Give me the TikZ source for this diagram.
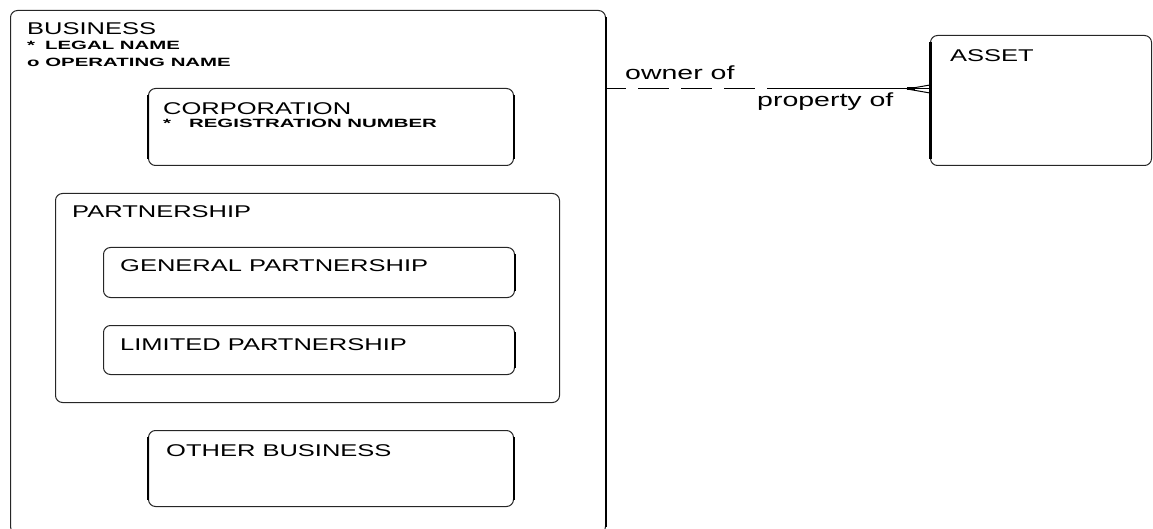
\documentclass[tikz,border=0pt]{standalone}
\usepackage{fontspec}
\setmainfont{Liberation Sans}
\newfontfamily\erfont[FakeStretch=1.5]{Liberation Sans}
\newfontfamily\attrfont[FakeStretch=1.7]{Liberation Sans}
\usetikzlibrary{positioning}

\tikzset{
  entity/.style={draw=black!85, line width=1pt, rounded corners=7pt, anchor=north west, inner sep=0pt},
  side/.style={line width=2.2pt, shorten >=7pt, shorten <=7pt},
  ename/.style={anchor=base west, inner sep=0pt, font=\erfont\fontsize{17}{17}\selectfont},
  eattr/.style={anchor=base west, inner sep=0pt, font=\attrfont\bfseries\fontsize{12}{12}\selectfont},
  rlabel/.style={anchor=base west, inner sep=0pt, font=\erfont\fontsize{19}{19}\selectfont},
}

\begin{document}
\begin{tikzpicture}[x=1pt, y=-1pt]
  \useasboundingbox (0,0) rectangle (1153,529);
  % entities
  \node[entity, minimum width=595pt, minimum height=523pt] (business) at (10,10) {};
  \node[entity, minimum width=365pt, minimum height=77pt] (corporation) at (148,88) {};
  \node[entity, minimum width=504pt, minimum height=209pt] (partnership) at (55,193) {};
  \node[entity, minimum width=411pt, minimum height=50pt] (general) at (103,247) {};
  \node[entity, minimum width=411pt, minimum height=49pt] (limited) at (103,325) {};
  \node[entity, minimum width=365pt, minimum height=76pt] (other) at (148,430) {};
  \node[entity, minimum width=221pt, minimum height=130pt] (asset) at (930,35) {};
  % heavy sides
  \draw[side] (business.north east) -- (business.south east);
  \draw[side] (corporation.north west) -- (corporation.south west);
  \draw[side] (corporation.north east) -- (corporation.south east);
  \draw[side] (general.north east) -- (general.south east);
  \draw[side] (limited.north east) -- (limited.south east);
  \draw[side] (other.north west) -- (other.south west);
  \draw[side] (other.north east) -- (other.south east);
  \draw[side, line width=3pt] (asset.north west) -- (asset.south west);
  % names and attributes
  \node[ename] (businessName) at (27,35) {BUSINESS};
  \node[eattr] (legalName) at (27,50) {*\hspace{10pt}LEGAL NAME};
  \node[eattr] (operatingName) at (27,67) {o OPERATING NAME};
  \node[ename] (corporationName) at (163,115) {CORPORATION};
  \node[eattr] (regNumber) at (163,128) {*\hspace{18pt}REGISTRATION NUMBER};
  \node[ename] (partnershipName) at (72,218) {PARTNERSHIP};
  \node[ename] (generalName) at (120,272) {GENERAL PARTNERSHIP};
  \node[ename] (limitedName) at (120,350) {LIMITED PARTNERSHIP};
  \node[ename] (otherName) at (166,456) {OTHER BUSINESS};
  \node[ename] (assetName) at (950,62) {ASSET};
  % relationship business -- asset
  \coordinate (rel) at (773,89);
  \coordinate (crow) at (907,89);
  \draw[line width=1pt, dash pattern=on 31pt off 12pt, dash phase=11pt] (business.east |- rel) -- (rel);
  \draw[line width=1pt] (rel) -- (asset.west |- rel);
  \draw[line width=1pt] (crow) -- ([yshift=4pt]asset.west |- rel);
  \draw[line width=1pt] (crow) -- ([yshift=-4pt]asset.west |- rel);
  \draw[line width=3pt] (crow) -- +(8,0);
  \node[rlabel] (ownerOf) at (625,80) {owner of};
  \node[rlabel] (propertyOf) at (757,107) {property of};
\end{tikzpicture}
\end{document}
